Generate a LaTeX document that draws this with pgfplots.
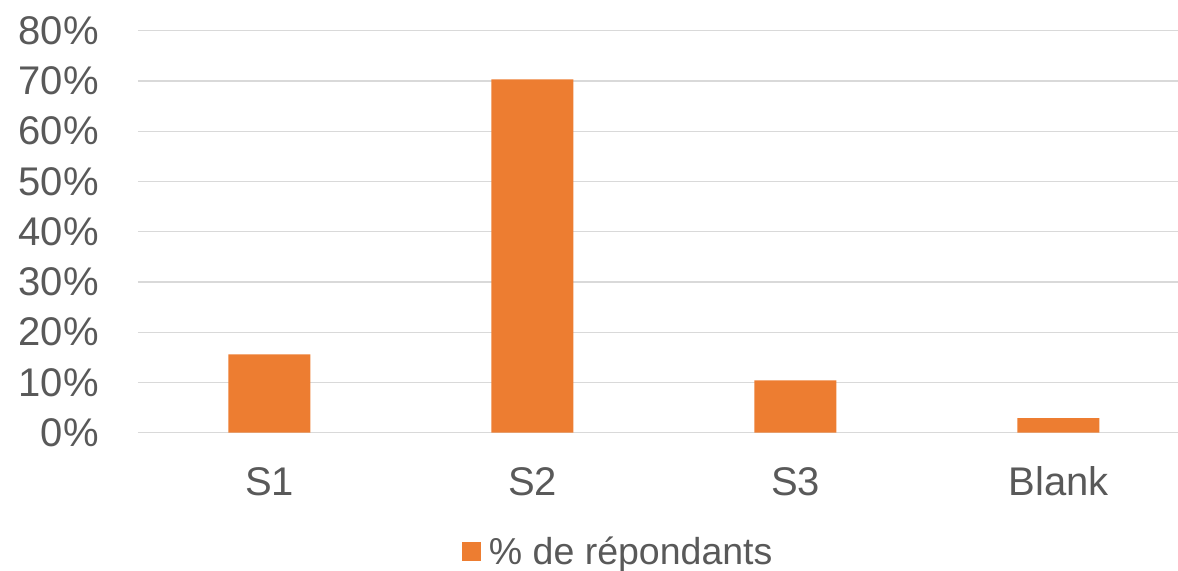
\documentclass[border=0pt]{standalone}
\usepackage{fontspec}
\setmainfont{Liberation Sans}
\usepackage{pgfplots}
\pgfplotsset{compat=1.18}
\definecolor{barorange}{HTML}{ED7D31}
\definecolor{textgray}{HTML}{595959}
\definecolor{gridgray}{HTML}{D9D9D9}
\begin{document}
\begin{tikzpicture}
\begin{axis}[
  at={(0,0)}, anchor=south west,
  scale only axis,
  width=1040bp, height=402bp,
  xmin=-0.5, xmax=3.4544,
  ymin=0, ymax=80,
  axis line style={draw=none},
  major tick length=0pt,
  ymajorgrids,
  major grid style={line width=1.4bp, color=gridgray},
  ytick={0,10,...,80},
  yticklabel={\pgfmathprintnumber{\tick}\%},
  xtick={0,1,2,3},
  xticklabels={S1,S2,S3,Blank},
  /pgf/number format/assume math mode=true,
  tick label style={font=\fontsize{40bp}{48bp}\selectfont, text=textgray},
  yticklabel style={anchor=east, inner sep=0pt, xshift=-39bp},
  xticklabel style={anchor=base, inner sep=0pt, yshift=-62.3bp},
  legend style={at={(0.3115,-0.2955)}, anchor=west, draw=none, fill=none,
    inner sep=0pt, outer sep=0pt,
    font=\fontsize{37.5bp}{45bp}\selectfont, text=textgray},
  legend image code/.code={\fill[barorange] (0bp,-9.5bp) rectangle (19.5bp,9.5bp); \path (25bp,0bp);},
]
\addplot[ybar, bar width=82bp, fill=barorange, draw=none] coordinates {
  (0,15.6) (1,70.3) (2,10.4) (3,2.9)
};
\addlegendentry{\% de répondants}
\end{axis}
\pgfresetboundingbox
\path (-138bp,-138.3bp) rectangle (1040bp,432.7bp);
\end{tikzpicture}
\end{document}
